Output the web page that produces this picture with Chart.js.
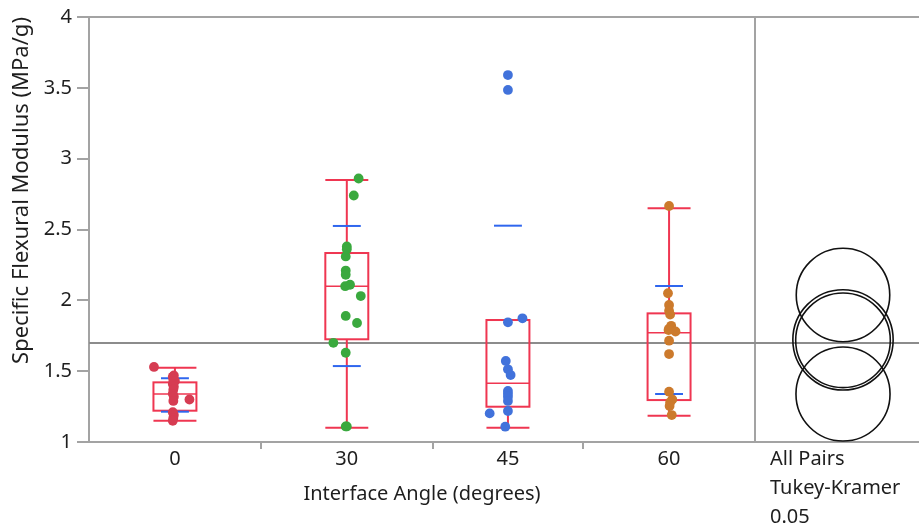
<!DOCTYPE html>
<html>
<head>
<meta charset="utf-8">
<script src="https://cdn.jsdelivr.net/npm/chart.js@4"></script>
<style>
  body { margin: 0; background: #fff; }
  canvas { display: block; }
</style>
</head>
<body>
<canvas id="chart" width="919" height="529"></canvas>
<script>
// categories and group sizes (x widths are proportional to n)
const categories = ['0', '30', '45', '60'];
const counts = [16, 16, 14, 16];

const values0 = [1.53, 1.47, 1.46, 1.44, 1.43, 1.41, 1.39, 1.37, 1.34, 1.32, 1.30, 1.29, 1.21, 1.19, 1.17, 1.15];
const jitter0 = [-1.95, -0.1, -0.2, -0.15, 0.0, -0.2, -0.1, -0.15, -0.2, -0.1, 1.35, -0.15, -0.2, -0.1, -0.15, -0.2];
const values30 = [2.86, 2.74, 2.38, 2.36, 2.31, 2.21, 2.18, 2.11, 2.10, 2.03, 1.89, 1.84, 1.70, 1.63, 1.11, 1.11];
const jitter30 = [1.1, 0.65, 0.0, 0.0, -0.1, -0.1, -0.1, 0.3, -0.15, 1.3, -0.1, 0.95, -1.25, -0.1, 0.0, -0.1];
const values45 = [3.59, 3.485, 1.873, 1.845, 1.572, 1.513, 1.473, 1.36, 1.34, 1.32, 1.29, 1.219, 1.202, 1.108];
const jitter45 = [0.0, 0.0, 1.35, 0.0, -0.2, 0.0, 0.25, 0.0, 0.0, 0.0, 0.0, 0.0, -1.7, -0.25];
const values60 = [2.666, 2.05, 1.967, 1.927, 1.90, 1.82, 1.80, 1.79, 1.78, 1.715, 1.621, 1.355, 1.30, 1.28, 1.254, 1.19];
const jitter60 = [0.0, -0.1, 0.0, 0.0, 0.1, 0.2, 0.0, -0.05, 0.6, 0.0, 0.0, 0.0, 0.3, 0.1, 0.05, 0.25];

// box plot summaries
const whiskerLow = [1.150, 1.101, 1.101, 1.186];
const q1 = [1.221, 1.725, 1.249, 1.296];
const median = [1.339, 2.099, 1.414, 1.772];
const q3 = [1.421, 2.334, 1.861, 1.908];
const whiskerHigh = [1.524, 2.849, 1.861, 2.650];

// mean +/- std dev marks, means and Tukey-Kramer comparison circle radii
const means = [1.339, 2.038, 1.721, 1.718];
const sdLow = [1.214, 1.536, 0.913, 1.339];
const sdHigh = [1.450, 2.525, 2.527, 2.101];
const circleRadius = [0.332, 0.330, 0.354, 0.334];
const grandMean = 1.699;

const yTicks = [1, 1.5, 2, 2.5, 3, 3.5, 4];
const panelText = ['All Pairs', 'Tukey-Kramer', '0.05'];

const pointColors = ['#d63c52', '#3aa93e', '#4172db', '#cc7a2c'];
const boxColor = '#ef3651';
const sdColor = '#2f66ee';
const axisGray = '#a3a3a3';
const textColor = '#1e1e1e';
const fontFamily = "'Noto Sans', 'Open Sans', sans-serif";

// x layout: each group gets a band as wide as its n
const edges = [0];
counts.forEach(n => edges.push(edges[edges.length - 1] + n));
const centers = categories.map((c, i) => (edges[i] + edges[i + 1]) / 2);
const innerEdges = edges.slice(1, -1);
const xMax = edges[edges.length - 1];

const groups = [values0, values30, values45, values60];
const jitters = [jitter0, jitter30, jitter45, jitter60];

const datasets = groups.map((vals, i) => ({
    label: categories[i],
    data: vals.map((v, j) => ({ x: centers[i] + jitters[i][j], y: v })),
    backgroundColor: pointColors[i],
    borderColor: pointColors[i],
    borderWidth: 0,
    pointRadius: 4.9,
    pointHoverRadius: 4.9
}));

function seg(ctx, x1, y1, x2, y2) {
    ctx.beginPath();
    ctx.moveTo(x1, y1);
    ctx.lineTo(x2, y2);
    ctx.stroke();
}

const onewayPlugin = {
    id: 'oneway',
    beforeDatasetsDraw(chart) {
        const { ctx, chartArea: a, scales: { x, y } } = chart;
        const W = chart.width;
        ctx.save();

        // frame: top, separator, bottom under the panel
        ctx.strokeStyle = axisGray;
        ctx.lineWidth = 2;
        seg(ctx, a.left, a.top, W, a.top);
        seg(ctx, a.right, a.top, a.right, a.bottom);
        seg(ctx, a.right, a.bottom, W, a.bottom);

        // grand mean
        const gy = y.getPixelForValue(grandMean);
        ctx.strokeStyle = '#8c8c8c';
        seg(ctx, a.left, gy, W, gy);

        ctx.beginPath();
        ctx.rect(a.left, a.top, a.right - a.left, a.bottom - a.top);
        ctx.clip();

        const boxHalf = 2, sdHalf = 1.3;
        categories.forEach((c, i) => {
            const xc = x.getPixelForValue(centers[i]);
            const xl = x.getPixelForValue(centers[i] - boxHalf);
            const xr = x.getPixelForValue(centers[i] + boxHalf);
            const yq1 = y.getPixelForValue(q1[i]);
            const yq3 = y.getPixelForValue(q3[i]);
            const ylo = y.getPixelForValue(whiskerLow[i]);
            const yhi = y.getPixelForValue(whiskerHigh[i]);
            const ymed = y.getPixelForValue(median[i]);

            ctx.strokeStyle = boxColor;
            ctx.lineWidth = 2;
            ctx.strokeRect(xl, yq3, xr - xl, yq1 - yq3);
            ctx.lineWidth = 1.5;
            seg(ctx, xl, ymed, xr, ymed);
            ctx.lineWidth = 2;
            seg(ctx, xc, yq1, xc, ylo);
            seg(ctx, xc, yq3, xc, yhi);
            seg(ctx, xl, ylo, xr, ylo);
            seg(ctx, xl, yhi, xr, yhi);

            ctx.strokeStyle = sdColor;
            ctx.lineWidth = 2;
            const sl = x.getPixelForValue(centers[i] - sdHalf);
            const sr = x.getPixelForValue(centers[i] + sdHalf);
            [sdLow[i], sdHigh[i]].forEach(v => {
                const py = y.getPixelForValue(v);
                seg(ctx, sl, py, sr, py);
            });
        });
        ctx.restore();

        // comparison circles in the right panel
        ctx.save();
        ctx.strokeStyle = '#111';
        ctx.lineWidth = 1.6;
        const cx = a.right + 88;
        means.forEach((m, i) => {
            const cy = y.getPixelForValue(m);
            const r = y.getPixelForValue(m - circleRadius[i]) - cy;
            ctx.beginPath();
            ctx.arc(cx, cy, r, 0, Math.PI * 2);
            ctx.stroke();
        });
        ctx.restore();
    },
    afterDraw(chart) {
        const { ctx, chartArea: a } = chart;
        ctx.save();
        ctx.fillStyle = textColor;
        ctx.font = '20px ' + fontFamily;
        ctx.textAlign = 'left';
        ctx.textBaseline = 'middle';
        panelText.forEach((t, i) => ctx.fillText(t, a.right + 15, 459 + i * 29));
        ctx.restore();
    }
};

new Chart(document.getElementById('chart'), {
    type: 'scatter',
    data: { datasets },
    options: {
        responsive: false,
        animation: false,
        devicePixelRatio: 1,
        layout: { padding: { top: 17, right: 164, left: 0, bottom: 0 } },
        plugins: {
            legend: { display: false },
            tooltip: { enabled: false }
        },
        scales: {
            x: {
                type: 'linear',
                min: 0,
                max: xMax,
                afterBuildTicks: s => { s.ticks = [...innerEdges, ...centers].sort((p, q) => p - q).map(v => ({ value: v })); },
                afterFit: s => { s.height = 87; },
                ticks: {
                    autoSkip: false,
                    maxRotation: 0,
                    padding: -2,
                    color: textColor,
                    font: { family: fontFamily, size: 20 },
                    callback: v => { const i = centers.indexOf(v); return i >= 0 ? categories[i] : ''; }
                },
                grid: {
                    drawOnChartArea: false,
                    tickLength: 7,
                    lineWidth: 2,
                    color: c => (c.tick && innerEdges.includes(c.tick.value)) ? axisGray : 'rgba(0,0,0,0)'
                },
                border: { color: axisGray, width: 2 },
                title: {
                    display: true,
                    text: 'Interface Angle (degrees)',
                    color: textColor,
                    font: { family: fontFamily, size: 20 },
                    padding: { top: 0, bottom: 23 }
                }
            },
            y: {
                min: 1,
                max: 4,
                afterBuildTicks: s => { s.ticks = yTicks.map(v => ({ value: v })); },
                afterFit: s => { s.width = 89; },
                ticks: {
                    padding: 5,
                    color: textColor,
                    font: { family: fontFamily, size: 20 },
                    callback: v => String(v)
                },
                grid: {
                    drawOnChartArea: false,
                    tickLength: 12,
                    lineWidth: 2,
                    color: axisGray
                },
                border: { color: axisGray, width: 2 },
                title: {
                    display: true,
                    text: 'Specific Flexural Modulus (MPa/g)',
                    align: 'end',
                    color: textColor,
                    font: { family: fontFamily, size: 22 },
                    padding: { top: 9, bottom: 0 }
                }
            }
        }
    },
    plugins: [onewayPlugin]
});
</script>
</body>
</html>
